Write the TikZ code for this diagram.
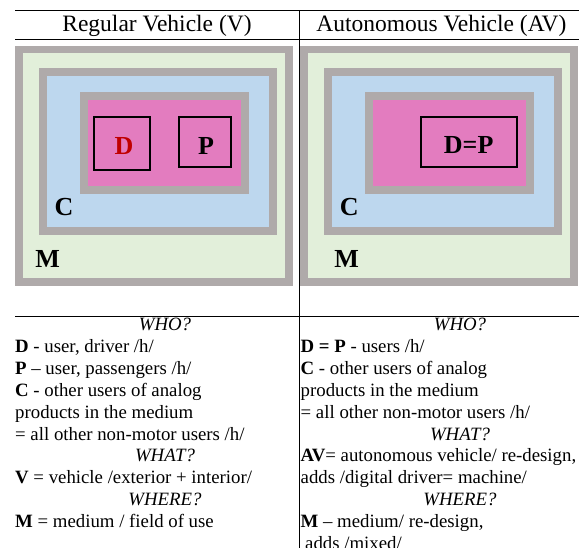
\documentclass[tikz,border=0pt]{standalone}
\usepackage{fontspec}
\setmainfont{Liberation Serif}
\definecolor{frameg}{RGB}{175,170,170}
\definecolor{medg}{RGB}{226,239,218}
\definecolor{custb}{RGB}{189,215,238}
\definecolor{vehp}{RGB}{227,124,191}
\definecolor{dred}{RGB}{192,0,0}
\tikzset{
  tline/.style={line width=1pt, black},
  ubox/.style={draw=black, line width=2pt},
  titletxt/.style={inner sep=0pt, font=\fontsize{23.5}{28}\selectfont},
  lbl/.style={inner sep=0pt, font=\fontsize{26}{30}\selectfont\bfseries},
  bodytxt/.style={inner sep=0pt, anchor=base west, font=\fontsize{18.8}{21.9}\selectfont},
  headtxt/.style={inner sep=0pt, anchor=base, font=\fontsize{18.8}{21.9}\selectfont\itshape},
}
\newcommand\gframe[5]{%
  \fill[frameg] (#1,#2) rectangle (#3,#4);
  \fill[#5] (#1+7.7,#2+7.7) rectangle (#3-7.7,#4-7.7);}
\begin{document}
\begin{tikzpicture}[x=1pt,y=-1pt]
\useasboundingbox (0,0) rectangle (579,548);
% panels
\foreach \dx in {0,285}{
  \begin{scope}[xshift=\dx pt]
    \gframe{15}{45.7}{292.7}{286}{medg}
    \gframe{39.3}{68}{276.7}{235}{custb}
    \gframe{80}{92}{249}{194}{vehp}
  \end{scope}
}
% left panel boxes and labels
\draw[ubox] (94,116.7) rectangle (150,170);
\draw[ubox] (179,116.7) rectangle (231,167.3);
\node[lbl, text=dred] (lD) at (124,145.7) {D};
\node[lbl] (lP) at (206,145.5) {P};
\node[lbl] (lC) at (64,207) {C};
\node[lbl] (lM) at (47.7,259) {M};
% right panel
\draw[ubox] (420.7,116.7) rectangle (517.3,166.7);
\node[lbl] (rDP) at (468.7,145.5) {D=P};
\node[lbl] (rC) at (349.3,207) {C};
\node[lbl] (rM) at (346.7,259) {M};
% titles
\node[titletxt] (tL) at (157,26) {Regular Vehicle (V)};
\node[titletxt] (tR) at (441.4,26) {Autonomous Vehicle (AV)};
% table lines
\coordinate (tl) at (15,11);
\coordinate (tr) at (579,11);
\coordinate (hl) at (15,40);
\coordinate (hr) at (579,40);
\coordinate (ml) at (15,317);
\coordinate (mr) at (579,317);
\coordinate (vt) at (299.3,11);
\coordinate (vb) at (299.3,548);
\draw[tline] (tl) -- (tr);
\draw[tline] (hl) -- (hr);
\draw[tline] (ml) -- (mr);
\draw[tline] (vt) -- (vb);
% left text
\def\yb{330.5}
\def\ls{21.9}
\node[headtxt] (lwho) at (165,\yb) {WHO?};
\node[bodytxt] (l1) at (15,\yb+1*\ls) {\textbf{D} - user, driver /h/};
\node[bodytxt] (l2) at (15,\yb+2*\ls) {\textbf{P} – user, passengers /h/};
\node[bodytxt] (l3) at (15,\yb+3*\ls) {\textbf{C} - other users of analog};
\node[bodytxt] (l4) at (15,\yb+4*\ls) {products in the medium};
\node[bodytxt] (l5) at (15,\yb+5*\ls) {= all other non-motor users /h/};
\node[headtxt] (lwhat) at (165,\yb+6*\ls) {WHAT?};
\node[bodytxt] (l7) at (15,\yb+7*\ls) {\textbf{V} = vehicle /exterior + interior/};
\node[headtxt] (lwhere) at (165,\yb+8*\ls) {WHERE?};
\node[bodytxt] (l9) at (15,\yb+9*\ls) {\textbf{M} = medium / field of use};
% right text
\node[headtxt] (rwho) at (460,\yb) {WHO?};
\node[bodytxt] (r1) at (300.5,\yb+1*\ls) {\textbf{D = P} - users /h/};
\node[bodytxt] (r2) at (300.5,\yb+2*\ls) {\textbf{C} - other users of analog};
\node[bodytxt] (r3) at (300.5,\yb+3*\ls) {products in the medium};
\node[bodytxt] (r4) at (300.5,\yb+4*\ls) {= all other non-motor users /h/};
\node[headtxt] (rwhat) at (460,\yb+5*\ls) {WHAT?};
\node[bodytxt] (r6) at (300.5,\yb+6*\ls) {\textbf{AV}= autonomous vehicle/ re-design,};
\node[bodytxt] (r7) at (300.5,\yb+7*\ls) {adds /digital driver= machine/};
\node[headtxt] (rwhere) at (460,\yb+8*\ls) {WHERE?};
\node[bodytxt] (r9) at (300.5,\yb+9*\ls) {\textbf{M} – medium/ re-design,};
\node[bodytxt] (r10) at (305,\yb+10*\ls) {adds /mixed/};
\end{tikzpicture}
\end{document}
